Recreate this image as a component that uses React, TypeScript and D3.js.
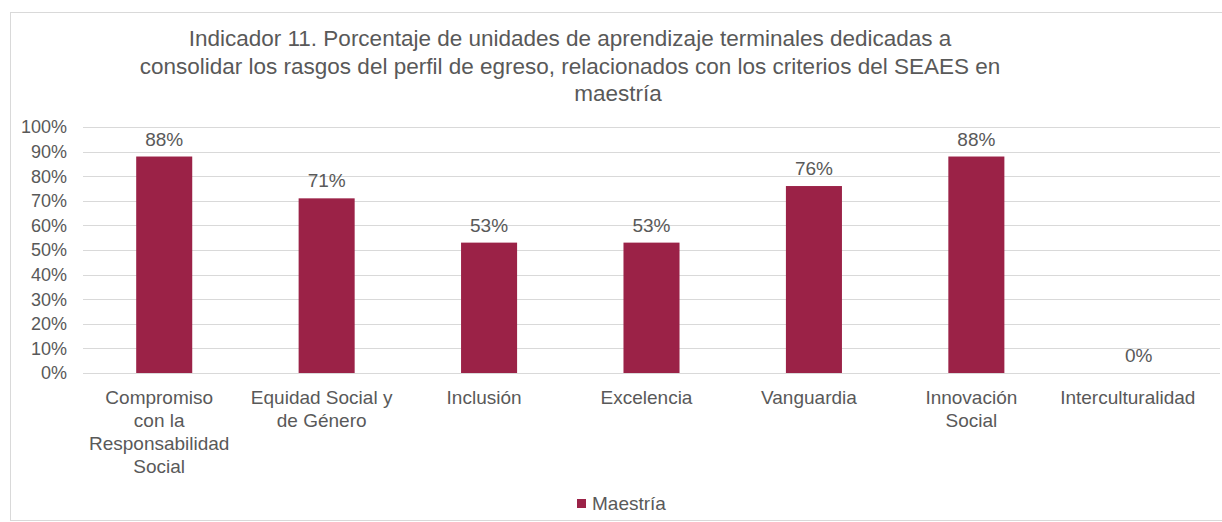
import React from 'react';
import * as d3 from 'd3';

// chart data
const categories = [
  'Compromiso\ncon la\nResponsabilidad\nSocial',
  'Equidad Social y\nde Género',
  'Inclusión',
  'Excelencia',
  'Vanguardia',
  'Innovación\nSocial',
  'Interculturalidad',
];
const maestria = [88, 71, 53, 53, 76, 88, 0];
const yTicks = [0, 10, 20, 30, 40, 50, 60, 70, 80, 90, 100];
const titleLines = [
  'Indicador 11. Porcentaje de unidades de aprendizaje terminales dedicadas a',
  'consolidar los rasgos del perfil de egreso, relacionados con los criterios del SEAES en',
  'maestría',
];
const seriesName = 'Maestría';

const W = 1222,
  H = 522;
const margin = { top: 127, right: 2, bottom: 149, left: 83 };
const barColor = '#9b2247';
const textColor = '#595959';
const gridColor = '#d9d9d9';
const font = '"Liberation Sans", Arial, sans-serif';

export default function App() {
  const x = d3
    .scaleBand<string>()
    .domain(categories)
    .range([margin.left, W - margin.right])
    .paddingInner(0.655)
    .paddingOuter(0.3275);
  const y = d3
    .scaleLinear()
    .domain([0, 100])
    .range([H - margin.bottom, margin.top]);

  const cx = (c: string) => (x(c) as number) + x.bandwidth() / 2;

  return (
    <div style={{ position: 'absolute', left: 0, top: 0 }}>
      <svg width={W} height={H} style={{ display: 'block', fontFamily: font }}>
        <rect x={0} y={0} width={W} height={H} fill="#fff" />
        <rect x={10.5} y={12.5} width={W - 10} height={H - 14} fill="none" stroke={gridColor} />

        {/* TITLE */}
        {titleLines.map((t, i) => (
          <text
            key={i}
            x={i === 2 ? 618 : 570}
            y={46 + i * 27.5}
            textAnchor="middle"
            fontSize={22.5}
            fill={textColor}
          >
            {t}
          </text>
        ))}

        {/* GRID + Y AXIS */}
        {yTicks.map((t) => (
          <g key={t}>
            <line
              x1={margin.left}
              x2={W - margin.right}
              y1={Math.round(y(t)) + 0.5}
              y2={Math.round(y(t)) + 0.5}
              stroke={gridColor}
            />
            <text
              x={67}
              y={y(t)}
              dy="0.35em"
              textAnchor="end"
              fontSize={18}
              fill={textColor}
            >
              {`${t}%`}
            </text>
          </g>
        ))}

        {/* BARS */}
        {categories.map((c, i) => (
          <g key={c}>
            <rect
              x={x(c)}
              y={y(maestria[i])}
              width={x.bandwidth()}
              height={y(0) - y(maestria[i])}
              fill={barColor}
            />
            <text
              x={cx(c)}
              y={y(maestria[i]) - 11}
              textAnchor="middle"
              fontSize={19}
              fill={textColor}
            >
              {`${maestria[i]}%`}
            </text>
          </g>
        ))}

        {/* X AXIS LABELS */}
        {categories.map((c, i) => {
          const lx = i === categories.length - 1 ? cx(c) - 11 : cx(c) - 5;
          return (
            <text key={c} x={lx} y={y(0) + 31} textAnchor="middle" fontSize={19} fill={textColor}>
              {c.split('\n').map((line, j) => (
                <tspan key={j} x={lx} dy={j === 0 ? 0 : 23}>
                  {line}
                </tspan>
              ))}
            </text>
          );
        })}

        {/* LEGEND */}
        <rect x={577} y={499} width={9} height={9} fill={barColor} />
        <text x={592} y={510} fontSize={19} fill={textColor}>
          {seriesName}
        </text>
      </svg>
    </div>
  );
}
